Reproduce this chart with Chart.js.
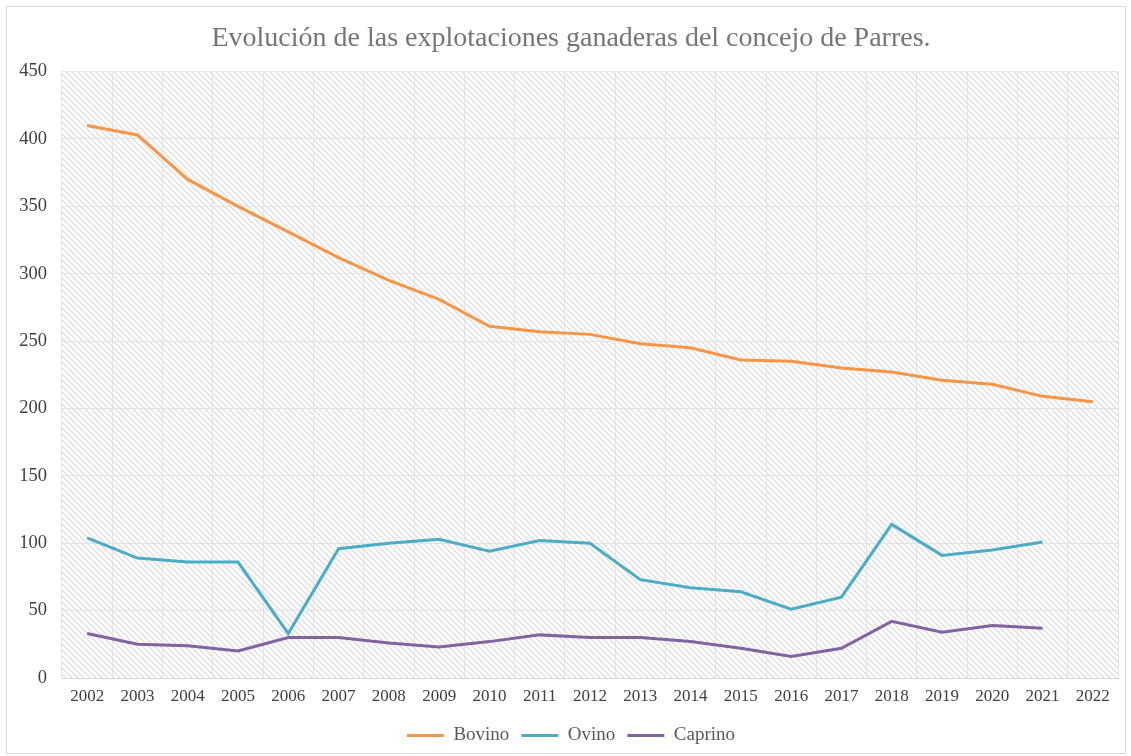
<!DOCTYPE html>
<html><head><meta charset="utf-8">
<script src="https://cdn.jsdelivr.net/npm/chart.js@4"></script>
<style>
html,body{margin:0;padding:0;background:#fff;}
#wrap{position:relative;width:1131px;height:756px;}
#frame{position:absolute;left:6px;top:6px;width:1118px;height:746px;border:1px solid #d9d9d9;pointer-events:none;}
</style>
</head><body>
<div id="wrap"><canvas id="c" width="1131" height="756"></canvas><div id="frame"></div></div>
<script>
const years = ['2002','2003','2004','2005','2006','2007','2008','2009','2010','2011','2012','2013','2014','2015','2016','2017','2018','2019','2020','2021','2022'];
const bovino = [410,403,370,350,331,312,295,281,261,257,255,248,245,236,235,230,227,221,218,209,205];
const ovino  = [104,89,86,86,33,96,100,103,94,102,100,73,67,64,51,60,114,91,95,101,null];
const caprino= [33,25,24,20,30,30,26,23,27,32,30,30,27,22,16,22,42,34,39,37,null];
const yTicks = [0,50,100,150,200,250,300,350,400,450];

function makeHatch(){
  const s = 6;
  const p = document.createElement('canvas');
  p.width = s; p.height = s;
  const g = p.getContext('2d');
  g.fillStyle = '#ffffff'; g.fillRect(0,0,s,s);
  g.strokeStyle = '#d9d9d9'; g.lineWidth = 1.2;
  g.beginPath();
  g.moveTo(-1,-1); g.lineTo(s+1,s+1);
  g.moveTo(-1,s-1); g.lineTo(1,s+1);
  g.moveTo(s-1,-1); g.lineTo(s+1,1);
  g.stroke();
  return p;
}

const hatchPlugin = {
  id:'hatch',
  beforeDraw(chart){
    const {ctx, chartArea:a} = chart;
    ctx.save();
    ctx.fillStyle = ctx.createPattern(makeHatch(),'repeat');
    ctx.fillRect(a.left, a.top, a.right-a.left, a.bottom-a.top);
    ctx.restore();
  }
};

const serif = "'Liberation Serif','Times New Roman',serif";
Chart.defaults.font.family = serif;

new Chart(document.getElementById('c'), {
  type:'line',
  data:{
    labels: years,
    datasets:[
      {label:'Bovino', data:bovino, borderColor:'#f79646', backgroundColor:'#f79646', borderWidth:3, pointRadius:0, tension:0},
      {label:'Ovino', data:ovino, borderColor:'#4bacc6', backgroundColor:'#4bacc6', borderWidth:3, pointRadius:0, tension:0},
      {label:'Caprino', data:caprino, borderColor:'#8064a2', backgroundColor:'#8064a2', borderWidth:3, pointRadius:0, tension:0}
    ]
  },
  options:{
    responsive:false,
    animation:false,
    layout:{padding:{left:24,right:13,top:0,bottom:1}},
    plugins:{
      title:{display:true, text:'Evolución de las explotaciones ganaderas del concejo de Parres.', color:'#757575', font:{size:28, weight:'normal', family:serif}, padding:{top:22,bottom:16}},
      legend:{position:'bottom', labels:{color:'#595959', font:{size:19, family:serif}, usePointStyle:true, pointStyle:'line', pointStyleWidth:37, boxHeight:3, padding:12}},
      tooltip:{enabled:false}
    },
    scales:{
      x:{
        offset:true,
        grid:{display:true, offset:true, color:'#e3e3e3', lineWidth:1, drawTicks:false},
        border:{display:true, color:'#d9d9d9'},
        ticks:{color:'#404040', font:{size:17, family:serif}, padding:8, maxRotation:0, autoSkip:false},
        afterFit(s){ s.height = 36; }
      },
      y:{
        min:0, max:450,
        afterBuildTicks(s){ s.ticks = yTicks.map(v=>({value:v})); },
        grid:{color:'#e3e3e3', lineWidth:1, drawTicks:false},
        border:{display:false},
        ticks:{color:'#404040', font:{size:18.5, family:serif}, padding:15},
        afterFit(s){ s.width = 38; s._computeLabelArea = function(){ return undefined; }; }
      }
    }
  },
  plugins:[hatchPlugin]
});
</script>
</body></html>
